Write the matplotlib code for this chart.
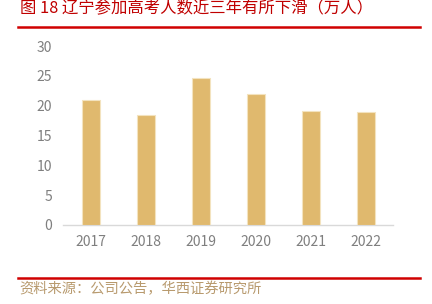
import matplotlib
matplotlib.use('Agg')
import matplotlib.pyplot as plt
import numpy as np

plt.rcParams['font.family'] = ['Noto Sans CJK SC', 'DejaVu Sans']

# Dane: liczba zdających gaokao w Liaoning (万人)
years = ['2017', '2018', '2019', '2020', '2021', '2022']
values = [20.9, 18.4, 24.6, 21.9, 19.1, 18.9]
yticks = [0, 5, 10, 15, 20, 25, 30]

title = '图 18 辽宁参加高考人数近三年有所下滑（万人）'
source = '资料来源：公司公告，华西证券研究所'

W, H = 432, 304
fig = plt.figure(figsize=(W / 100, H / 100), dpi=100)

# Obszar wykresu (w pikselach przeliczonych na ułamki)
left, right, top, bottom = 63.5, 393.5, 46, 225
ax = fig.add_axes([left / W, 1 - bottom / H, (right - left) / W, (bottom - top) / H])

x = np.arange(len(years))
ax.bar(x, values, width=0.31, color='#E0B96E', edgecolor='#F3E3BF', linewidth=0.8, zorder=3)

ax.set_xlim(-0.5, len(years) - 0.5)
ax.set_ylim(0, 30)
ax.set_yticks(yticks)
ax.set_yticklabels([str(t) for t in yticks], fontsize=10, color='#7F7F7F')
ax.set_xticks(x)
ax.set_xticklabels(years, fontsize=10, color='#7F7F7F')
ax.tick_params(axis='x', length=0, pad=7)
ax.tick_params(axis='y', length=0, pad=8)

for side in ['top', 'right', 'left']:
    ax.spines[side].set_visible(False)
ax.spines['bottom'].set_color('#D9D9D9')
ax.spines['bottom'].set_linewidth(1.0)

# Tytuł i linie
fig.text(20 / W, 1 - 8 / H, title, fontsize=11.8, color='#C00000', ha='left', va='center')
fig.add_artist(plt.Line2D([18 / W, 420 / W], [1 - 26.5 / H, 1 - 26.5 / H], color='#D00000', linewidth=1.8))
fig.add_artist(plt.Line2D([18 / W, 420 / W], [1 - 278 / H, 1 - 278 / H], color='#D00000', linewidth=1.8))
fig.text(19 / W, 1 - 289 / H, source, fontsize=10.3, color='#B89A6E', ha='left', va='center')

fig.savefig('out.png', dpi=100)
plt.close(fig)
